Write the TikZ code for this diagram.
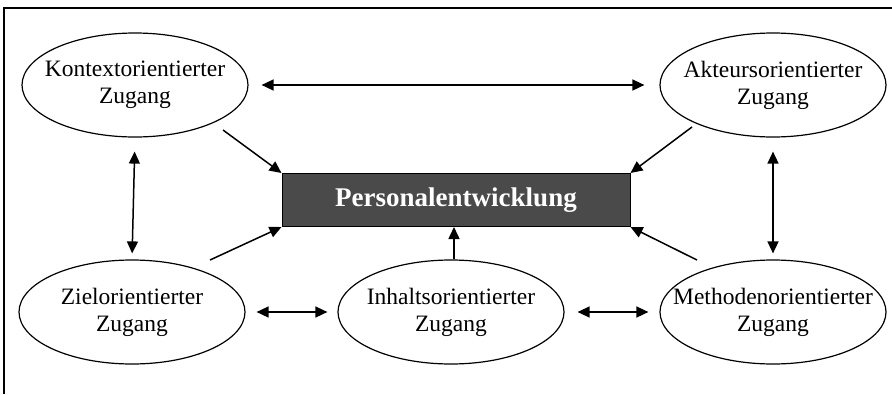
\documentclass[tikz,border=0pt]{standalone}
\usepackage{fontspec}
\setmainfont{Liberation Serif}
\usetikzlibrary{shapes.geometric,arrows.meta}
\definecolor{pegrau}{HTML}{4A4A4A}

\begin{document}
\begin{tikzpicture}[x=1pt,y=-1pt,
    zugang/.style={ellipse, draw, line width=1.2pt, minimum width=226pt,
      minimum height=104pt, inner sep=0pt,
      label={[align=center, font=\fontsize{23.5}{27}\selectfont]center:#1}},
    pfeil/.style={line width=1.5pt, -{Triangle[length=12pt,width=11pt]}},
    doppel/.style={line width=1.5pt,
      {Triangle[length=12pt,width=11pt]}-{Triangle[length=12pt,width=11pt]}}]
        \useasboundingbox (0,0) rectangle (892,394);
        \draw [line width=2pt] (4,394) -- (4,8) -- (892,8);                 %Rahmen
        \node [zugang={Kontextorientierter\\Zugang}] (kontext) at (135,85)  {};
        \node [zugang={Akteursorientierter\\Zugang}] (akteur)  at (773,85)  {};
        \node [zugang={Zielorientierter\\Zugang}]    (ziel)    at (132,312) {};
        \node [zugang={Inhaltsorientierter\\Zugang}] (inhalt)  at (451,312) {};
        \node [zugang={Methodenorientierter\\Zugang}](methode) at (773,312) {};
        \node [draw, line width=1pt, fill=pegrau, text=white,
               minimum width=348pt, minimum height=53pt,
               font=\fontsize{27}{30}\selectfont\bfseries]
              (pe) at (456,200) {Personalentwicklung};                      %PE
        \coordinate (k1) at (223,130);                                     %
        \coordinate (a1) at (692,127);                                     %
        \coordinate (z1) at (210,260);                                     %
        \coordinate (m1) at (697,260);                                     %
        \draw [doppel, shorten <=13pt, shorten >=15pt] (kontext) -- (akteur);
        \draw [doppel, shorten <=14pt, shorten >=6pt]  (kontext.south) -- (ziel.north);
        \draw [doppel, shorten <=14pt, shorten >=6pt]  (akteur.south) -- (methode.north);
        \draw [doppel, shorten <=11pt, shorten >=10pt] (ziel) -- (inhalt);  %
        \draw [doppel, shorten <=13pt, shorten >=11pt] (inhalt) -- (methode);
        \draw [pfeil] (k1) -- (pe.north west);                              %
        \draw [pfeil] (a1) -- (pe.north east);                              %
        \draw [pfeil] (z1) -- (pe.south west);                              %
        \draw [pfeil] (m1) -- (pe.south east);                              %
        \draw [pfeil] (inhalt.north -| 454,0) -- (pe.south -| 454,0);       %
\end{tikzpicture}
\end{document}
